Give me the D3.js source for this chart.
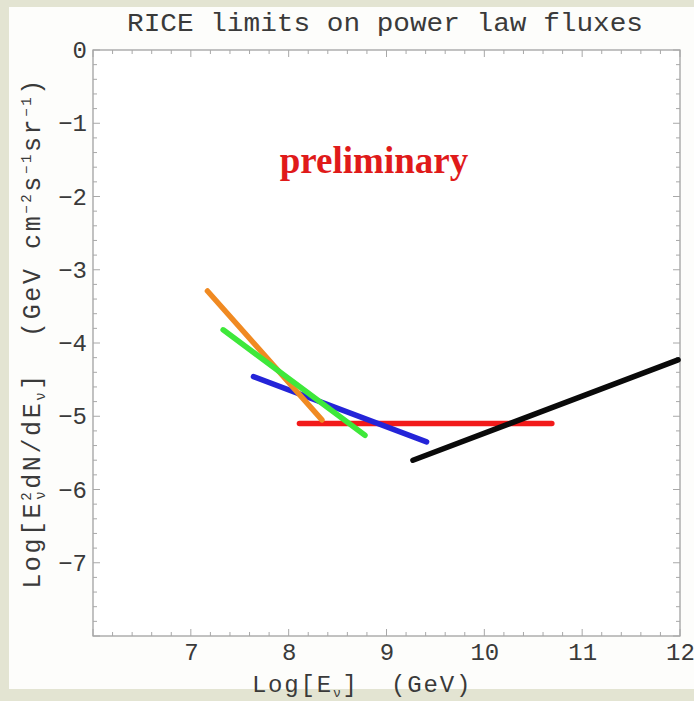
<!DOCTYPE html>
<html>
<head>
<meta charset="utf-8">
<script src="https://cdn.jsdelivr.net/npm/d3@7"></script>
<style>
  html, body { margin: 0; padding: 0; background: #fff; }
  svg { display: block; }
</style>
</head>
<body>
<svg id="chart" width="694" height="701"></svg>
<script>
// ---- data ----
const title = "RICE limits on power law fluxes";
const xTicks = [7, 8, 9, 10, 11, 12];
const yTicks = [0, -1, -2, -3, -4, -5, -6, -7];
const seriesNames = ["red", "blue", "orange", "green", "black"];
const seriesColors = ["#f21a1a", "#2424d8", "#f08a22", "#3ee83a", "#0a0a0a"];
// each series: [x, y] endpoints as Log10(E) and Log10(E^2 dN/dE)
const redLine    = [[8.11, -5.10], [10.69, -5.10]];
const blueLine   = [[7.64, -4.46], [9.41, -5.35]];
const orangeLine = [[7.17, -3.29], [8.34, -5.05]];
const greenLine  = [[7.33, -3.82], [8.78, -5.26]];
const blackLine  = [[9.27, -5.60], [11.98, -4.23]];
const seriesData = [redLine, blueLine, orangeLine, greenLine, blackLine];

const svg = d3.select("#chart");
const W = 694, H = 701;
const margin = {left: 93, top: 50, right: 14, bottom: 65};

// background texture (border strips)
svg.append("rect").attr("x", 0).attr("y", 0).attr("width", W).attr("height", H).attr("fill", "#e3e4d2");
svg.append("rect").attr("x", 9).attr("y", 7).attr("width", W - 9).attr("height", 682).attr("fill", "#fdfdfb");

const x = d3.scaleLinear().domain([6, 12]).range([margin.left, W - margin.right]);
const y = d3.scaleLinear().domain([-8, 0]).range([H - margin.bottom, margin.top]);

// plot area
svg.append("rect")
  .attr("x", x(6)).attr("y", y(0))
  .attr("width", x(12) - x(6)).attr("height", y(-8) - y(0))
  .attr("fill", "#ffffff").attr("stroke", "#9a9a9a").attr("stroke-width", 1.2);

// ticks on all four sides (inward)
const frame = svg.append("g").attr("stroke", "#a8a8a8").attr("stroke-width", 1);
const xMinor = d3.range(6, 12.001, 0.2);
const yMinor = d3.range(-8, 0.001, 0.2);
xMinor.forEach(v => {
  const major = Math.abs(v - Math.round(v)) < 1e-6;
  const len = major ? 7 : 4;
  frame.append("line").attr("x1", x(v)).attr("x2", x(v)).attr("y1", y(-8)).attr("y2", y(-8) - len);
  frame.append("line").attr("x1", x(v)).attr("x2", x(v)).attr("y1", y(0)).attr("y2", y(0) + len);
});
yMinor.forEach(v => {
  const major = Math.abs(v - Math.round(v)) < 1e-6;
  const len = major ? 7 : 4;
  frame.append("line").attr("y1", y(v)).attr("y2", y(v)).attr("x1", x(6)).attr("x2", x(6) + len);
  frame.append("line").attr("y1", y(v)).attr("y2", y(v)).attr("x1", x(12)).attr("x2", x(12) - len);
});

// axes labels via d3 axes (text only)
const monoFont = "'Liberation Mono', 'DejaVu Sans Mono', monospace";
const xAxis = svg.append("g").attr("transform", `translate(0,${y(-8)})`)
  .call(d3.axisBottom(x).tickValues(xTicks).tickSize(0).tickPadding(7).tickFormat(d3.format("d")));
xAxis.select(".domain").remove();
xAxis.selectAll("text").attr("font-family", monoFont).attr("font-size", 24).attr("fill", "#3a3a3a");

const yAxis = svg.append("g").attr("transform", `translate(${x(6)},0)`)
  .call(d3.axisLeft(y).tickValues(yTicks).tickSize(0).tickPadding(6)
    .tickFormat(d => d === 0 ? "0" : "\u2212" + Math.abs(d)));
yAxis.select(".domain").remove();
yAxis.selectAll("text").attr("font-family", monoFont).attr("font-size", 24).attr("fill", "#3a3a3a");

// series
const line = d3.line().x(d => x(d[0])).y(d => y(d[1]));
svg.append("g").selectAll("path").data(seriesData).join("path")
  .attr("d", line)
  .attr("fill", "none")
  .attr("stroke", (d, i) => seriesColors[i])
  .attr("stroke-width", 5.5)
  .attr("stroke-linecap", "round");

// title
svg.append("text").attr("x", 385).attr("y", 31)
  .attr("text-anchor", "middle").attr("font-family", monoFont)
  .attr("font-size", 25).attr("fill", "#3a3a3a")
  .attr("textLength", 516).attr("lengthAdjust", "spacingAndGlyphs")
  .text(title);

// preliminary
svg.append("text").attr("x", 374).attr("y", 173)
  .attr("text-anchor", "middle")
  .attr("font-family", "'Liberation Serif', 'DejaVu Serif', serif")
  .attr("font-weight", "bold").attr("font-size", 37).attr("fill", "#e01a1a")
  .text("preliminary");

// x axis label
const xl = svg.append("text").attr("x", 362).attr("y", 692)
  .attr("text-anchor", "middle").attr("font-family", monoFont)
  .attr("font-size", 24).attr("letter-spacing", 1.8).attr("fill", "#3a3a3a").attr("xml:space", "preserve");
xl.append("tspan").text("Log[E");
xl.append("tspan").attr("font-size", 13).attr("dy", 5).text("\u03bd");
xl.append("tspan").attr("dy", -5).text("]  (GeV)");

// y axis label
const yl = svg.append("text")
  .attr("transform", `translate(40,${333}) rotate(-90)`)
  .attr("text-anchor", "middle").attr("font-family", monoFont)
  .attr("font-size", 25).attr("letter-spacing", 2.6).attr("fill", "#3a3a3a").attr("xml:space", "preserve");
yl.append("tspan").text("Log[E");
yl.append("tspan").attr("font-size", 14).attr("dy", -9).text("2");
yl.append("tspan").attr("font-size", 14).attr("dx", -10).attr("dy", 14).text("\u03bd");
yl.append("tspan").attr("dy", -5).text("dN/dE");
yl.append("tspan").attr("font-size", 14).attr("dy", 5).text("\u03bd");
yl.append("tspan").attr("dy", -5).text("]  (GeV cm");
yl.append("tspan").attr("font-size", 14).attr("dy", -9).text("\u22122");
yl.append("tspan").attr("dy", 9).text("s");
yl.append("tspan").attr("font-size", 14).attr("dy", -9).text("\u22121");
yl.append("tspan").attr("dy", 9).text("sr");
yl.append("tspan").attr("font-size", 14).attr("dy", -9).text("\u22121");
yl.append("tspan").attr("dy", 9).text(")");
</script>
</body>
</html>
